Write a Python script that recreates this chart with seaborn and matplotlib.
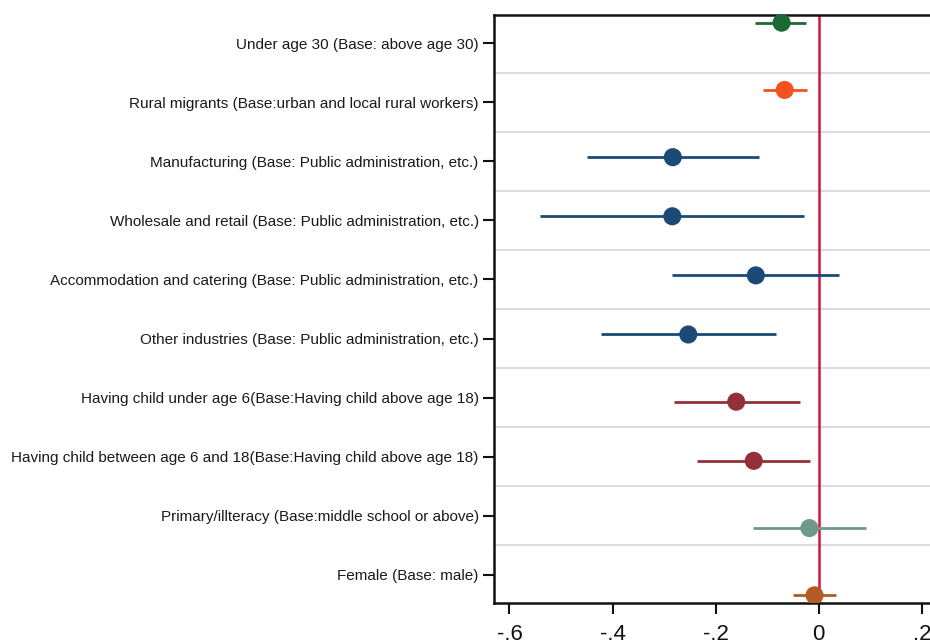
import matplotlib
matplotlib.use("Agg")
import matplotlib.pyplot as plt
import seaborn as sns
import pandas as pd
import numpy as np

# ---- data ----
labels = [
    "Under age 30 (Base: above age 30)",
    "Rural migrants (Base:urban and local rural workers)",
    "Manufacturing (Base: Public administration, etc.)",
    "Wholesale and retail (Base: Public administration, etc.)",
    "Accommodation and catering (Base: Public administration, etc.)",
    "Other industries (Base: Public administration, etc.)",
    "Having child under age 6(Base:Having child above age 18)",
    "Having child between age 6 and 18(Base:Having child above age 18)",
    "Primary/illteracy (Base:middle school or above)",
    "Female (Base: male)",
]
coef = [-0.072, -0.066, -0.283, -0.284, -0.122, -0.253, -0.160, -0.126, -0.018, -0.008]
ci_low = [-0.123, -0.108, -0.449, -0.540, -0.284, -0.423, -0.281, -0.237, -0.128, -0.050]
ci_high = [-0.024, -0.023, -0.116, -0.029, 0.040, -0.083, -0.037, -0.016, 0.091, 0.034]
model = ["age", "migrant", "industry", "industry", "industry", "industry",
         "child", "child", "education", "gender"]
xticks = [-0.6, -0.4, -0.2, 0, 0.2]
xticklabels = ["-.6", "-.4", "-.2", "0", ".2"]

# ---- styles ----
model_order = ["age", "migrant", "industry", "child", "education", "gender"]
palette = {"age": "#1b6a35", "migrant": "#f2521f", "industry": "#1a4a75",
           "child": "#943038", "education": "#6f9a88", "gender": "#b35a26"}
offset_step = 0.138

df = pd.DataFrame({"label": labels, "coef": coef, "lo": ci_low, "hi": ci_high, "model": model})
df["row"] = np.arange(len(df))
df["midx"] = df["model"].map({m: i for i, m in enumerate(model_order)})
df["ypos"] = df["row"] + (df["midx"] - (len(model_order) - 1) / 2) * offset_step

sns.set_theme(style="white")
plt.rcParams["font.family"] = ["Liberation Sans", "DejaVu Sans"]

fig = plt.figure(figsize=(9.3, 6.43), dpi=100)
ax = fig.add_axes([494 / 930, 1 - 603 / 643, 1 - 494 / 930, (603 - 15) / 643])

# grid lines between categories
for g in np.arange(len(labels) - 1) + 0.5:
    ax.axhline(g, color="#dcdcdc", lw=1.5, zorder=0)

ax.axvline(0, color="#d4163e", lw=1.8, zorder=1)

for _, r in df.iterrows():
    ax.hlines(r["ypos"], r["lo"], r["hi"], color=palette[r["model"]], lw=2.0, zorder=2)

sns.scatterplot(data=df, x="coef", y="ypos", hue="model", palette=palette,
                hue_order=model_order, s=170, edgecolor="none", legend=False,
                ax=ax, zorder=3)

ax.set_xlim(-0.63, 0.216)
ax.set_ylim(len(labels) - 0.525, -0.475)
ax.set_yticks(df["row"])
ax.set_yticklabels(labels, fontsize=11, color="#1a1a1a")
ax.set_xticks(xticks)
ax.set_xticklabels(xticklabels, fontsize=16, color="#111111")
ax.set_xlabel("")
ax.set_ylabel("")
ax.tick_params(axis="both", which="major", length=8, width=1.5, color="#111111",
               left=True, bottom=True)
ax.tick_params(axis="y", pad=3)
ax.tick_params(axis="x", pad=7)

for side in ["left", "bottom", "top"]:
    ax.spines[side].set_visible(True)
    ax.spines[side].set_color("#111111")
    ax.spines[side].set_linewidth(1.8)
ax.spines["right"].set_visible(False)

fig.savefig("out.png", dpi=100)
